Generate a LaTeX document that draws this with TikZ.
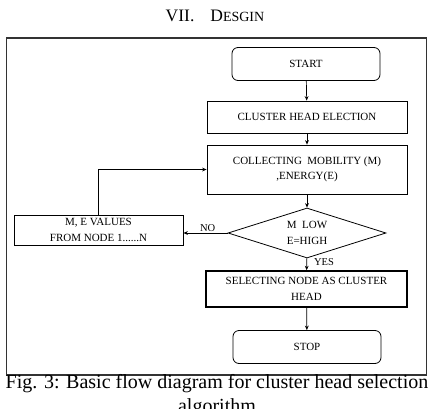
\documentclass[tikz,border=0pt]{standalone}
\usepackage{fontspec}
\setmainfont{Liberation Serif}
\usetikzlibrary{shapes.geometric,arrows.meta}
\begin{document}
\begin{tikzpicture}[x=1pt,y=-1pt,
  boxtxt/.style={font=\fontsize{11}{15.5}\selectfont, align=center, text=black},
  procbox/.style={boxtxt, draw, line width=0.8pt, minimum width=#1, inner sep=0pt},
  termbox/.style={boxtxt, draw, line width=0.8pt, rounded corners=6pt, minimum width=148, minimum height=33, inner sep=0pt},
  decbox/.style={boxtxt, draw, line width=0.8pt, diamond, aspect=3.16, minimum width=158, minimum height=50, inner sep=0pt},
  flow/.style={-{Stealth[length=4.5pt,width=3.8pt]}, line width=0.7pt},
  lbl/.style={font=\fontsize{10.5}{12}\selectfont, inner sep=1pt}
]
\useasboundingbox (0,0) rectangle (429,408);
\node[font=\fontsize{17.5}{20}\selectfont] (title) at (215,16) {VII.\hspace{16pt}D{\fontsize{14}{16}\selectfont ESGIN}};
\node[draw, line width=1.4pt, draw=black!80, minimum width=420, minimum height=337, inner sep=0pt] (frame) at (216.5,206.5) {};
\node[termbox] (start) at (306,64) {START};
\node[procbox=200, minimum height=32] (che) at (307,117) {CLUSTER HEAD ELECTION};
\node[procbox=200, minimum height=49] (coll) at (307,169.5) {COLLECTING\ \ MOBILITY (M)\\ ,ENERGY(E)};
\node[decbox] (dec) at (307,233) {M\ \ LOW\\ E=HIGH};
\node[procbox=169, minimum height=30] (mev) at (98.5,230) {M, E VALUES\\ FROM NODE 1......N};
\node[procbox=201, minimum height=36, line width=1.5pt] (sel) at (306.5,289) {SELECTING NODE AS CLUSTER\\ HEAD};
\node[termbox] (stop) at (307,347) {STOP};
\draw[flow] (start) -- (che);
\draw[flow] (che) -- (coll);
\draw[flow] (coll) -- (dec);
\draw[flow] (dec.west) -- node[lbl, above, pos=0.45] (nolbl) {NO} (mev.east |- dec.west);
\draw[flow] (dec) -- node[lbl, right, pos=0.35, xshift=6pt] (yeslbl) {YES} (sel);
\draw[flow] (sel) -- (stop);
\draw[flow, line width=1.5pt] (mev.north) |- (coll.west);
\node[font=\fontsize{20}{24}\selectfont, align=center, inner sep=0pt, anchor=north] (cap) at (217,374) {Fig. 3: Basic flow diagram for cluster head selection\\ algorithm};
\end{tikzpicture}
\end{document}
